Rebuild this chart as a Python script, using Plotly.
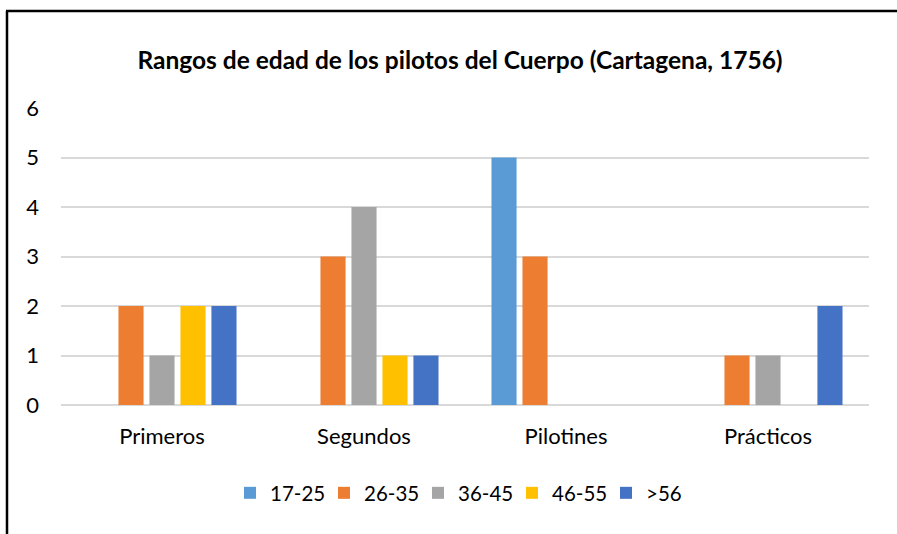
import plotly.graph_objects as go

categories = ["Primeros", "Segundos", "Pilotines", "Prácticos"]
series_names = ["17-25", "26-35", "36-45", "46-55", ">56"]
v_17_25 = [0, 0, 5, 0]
v_26_35 = [2, 3, 3, 1]
v_36_45 = [1, 4, 0, 1]
v_46_55 = [2, 1, 0, 0]
v_56 = [2, 1, 0, 2]
y_ticks = [0, 1, 2, 3, 4, 5, 6]

colors = ["#5B9BD5", "#ED7D31", "#A5A5A5", "#FFC000", "#4472C4"]
values = [v_17_25, v_26_35, v_36_45, v_46_55, v_56]

FONT = "Lato"
W, H = 897, 534
L, R, T, B = 61, 869, 108, 405

fig = go.Figure()
for name, vals, c in zip(series_names, values, colors):
    fig.add_trace(go.Bar(name=name, x=categories, y=vals,
                         marker=dict(color=c, line=dict(width=0))))

def px_x(p):
    return (p - L) / (R - L)

def px_y(p):
    return (B - p) / (B - T)

fig.update_layout(
    width=W, height=H,
    margin=dict(l=L, r=W - R, t=T, b=H - B, pad=0),
    paper_bgcolor="white", plot_bgcolor="white",
    barmode="group", bargap=0.233, bargroupgap=0.19,
    font=dict(family=FONT, size=22, color="#000000"),
    title=dict(text="<b>Rangos de edad de los pilotos del Cuerpo (Cartagena, 1756)</b>",
               x=460 / W, xanchor="center", y=1 - 60 / H, yanchor="middle",
               font=dict(family=FONT, size=24.5, color="#000000")),
    showlegend=True,
    legend=dict(orientation="h", x=0.5, xanchor="center",
                y=px_y(493), yanchor="middle",
                font=dict(family=FONT, size=20.5, color="#000000"),
                itemwidth=30, traceorder="normal", entrywidth=49),
    xaxis=dict(showgrid=False, zeroline=False, showline=False, ticks="",
               tickfont=dict(family=FONT, size=22, color="#000000"),
               ticklabelstandoff=16),
    yaxis=dict(range=[0, 6], tickvals=y_ticks, showgrid=True,
               gridcolor="#D9D9D9", gridwidth=1.5, zeroline=True,
               zerolinecolor="#D9D9D9", zerolinewidth=1.5, showline=False,
               ticks="", tickfont=dict(family=FONT, size=22, color="#000000"),
               ticklabelstandoff=21),
    shapes=[
        dict(type="line", xref="paper", yref="paper",
             x0=px_x(6), x1=px_x(897), y0=px_y(11), y1=px_y(11),
             line=dict(color="#000000", width=2.5)),
        dict(type="line", xref="paper", yref="paper",
             x0=px_x(7), x1=px_x(7), y0=px_y(11), y1=px_y(534),
             line=dict(color="#000000", width=2.5)),
    ],
)

fig.write_html("out.html", config={"displayModeBar": False},
               post_script="document.body.style.margin='0';document.body.style.overflow='hidden';")
